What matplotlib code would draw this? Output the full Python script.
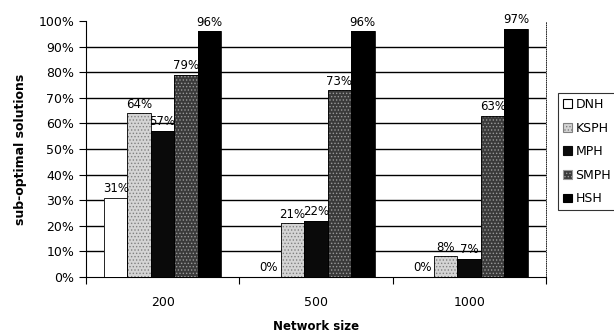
import numpy as np
import matplotlib
matplotlib.use('Agg')
import matplotlib.pyplot as plt
from matplotlib.patches import Patch
from matplotlib.ticker import PercentFormatter

# share of sub-optimal solutions per heuristic and network size
network_sizes = ['200', '500', '1000']
heuristics = ['DNH', 'KSPH', 'MPH', 'SMPH', 'HSH']
dnh = [31, 0, 0]
ksph = [64, 21, 8]
mph = [57, 22, 7]
smph = [79, 73, 63]
hsh = [96, 96, 97]

# face colour, hatch, hatch colour for each series
styles = [
    ('white', None, 'black'),
    ('#d4d4d4', '.....', '#808080'),
    ('#0a0a0a', None, '#0a0a0a'),
    ('#3a3a3a', '.....', '#9a9a9a'),
    ('black', None, 'black'),
]

plt.rcParams['font.family'] = 'DejaVu Sans'
plt.rcParams['hatch.linewidth'] = 0.6

fig = plt.figure(figsize=(6.14, 3.34), dpi=100)
ax = fig.add_axes([0.140, 0.171, 0.749, 0.766])

x = np.arange(len(network_sizes))
width = 0.153
series = [dnh, ksph, mph, smph, hsh]
handles = []
for i, (name, vals) in enumerate(zip(heuristics, series)):
    face, hatch, hcol = styles[i]
    pos = x + (i - 2) * width
    # hatched fill first, then a thin outline on top
    ax.bar(pos, vals, width, color=face, hatch=hatch, edgecolor=hcol,
           linewidth=0, zorder=3)
    ax.bar(pos, vals, width, fill=False, edgecolor='black', linewidth=0.6, zorder=4)
    handles.append(Patch(facecolor=face, hatch=hatch, edgecolor=hcol,
                         linewidth=0.8, label=name))
    for p, v in zip(pos, vals):
        ax.text(p, v + 1, f'{v}%', ha='center', va='bottom', fontsize=8.5, zorder=5)

ax.set_xlim(-0.5, 2.5)
ax.set_ylim(0, 100)
ax.set_yticks(np.arange(0, 101, 10))
ax.yaxis.set_major_formatter(PercentFormatter(decimals=0))
ax.set_xticks(x)
ax.set_xticklabels(network_sizes)
ax.set_xticks([-0.5, 0.5, 1.5, 2.5], minor=True)
ax.tick_params(axis='x', which='major', length=0, pad=14, labelsize=9)
ax.tick_params(axis='x', which='minor', length=5, width=0.8, direction='out')
ax.tick_params(axis='y', length=5, width=0.8, labelsize=9)

for y in range(10, 100, 10):
    ax.axhline(y, color='black', linewidth=1.0, zorder=1)

ax.spines['top'].set_visible(False)
ax.spines['right'].set_linestyle(':')
ax.spines['right'].set_linewidth(0.6)

ax.set_ylabel('sub-optimal solutions', fontsize=9, fontweight='bold', labelpad=8)
ax.set_xlabel('Network size', fontsize=8.5, fontweight='bold', labelpad=8)

leg = ax.legend(handles=handles, loc='upper left', bbox_to_anchor=(1.026, 0.719),
                borderaxespad=0, frameon=True, fancybox=False, edgecolor='black',
                fontsize=9, handlelength=0.7, handleheight=0.7, handletextpad=0.3,
                borderpad=0.4, labelspacing=0.85)
leg.get_frame().set_linewidth(0.8)

fig.savefig('out.png', dpi=100)
